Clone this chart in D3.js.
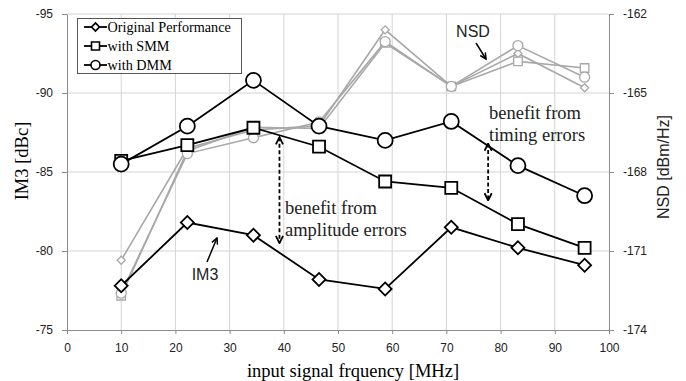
<!DOCTYPE html>
<html>
<head>
<meta charset="utf-8">
<script src="https://cdn.jsdelivr.net/npm/d3@7"></script>
<style>
  body { margin: 0; background: #fff; }
  svg { display: block; }
  .tick text { font-family: "Liberation Sans", Arial, sans-serif; font-size: 12px; fill: #222; }
</style>
</head>
<body>
<div id="chart"></div>
<script>
// input frequency (MHz)
const freq = [10, 22.2, 34.4, 46.5, 58.7, 70.9, 83.2, 95.5];

// IM3 [dBc], left axis
const im3Orig = [-77.8, -81.8, -81.0, -78.2, -77.6, -81.5, -80.2, -79.1];
const im3Smm = [-85.7, -86.7, -87.8, -86.6, -84.4, -84.0, -81.7, -80.2];
const im3Dmm = [-85.5, -87.9, -90.8, -87.9, -87.0, -88.2, -85.4, -83.5];

// NSD [dBm/Hz], right axis
const nsdOrig = [-171.35, -167.1, -166.4, -166.25, -162.6, -164.75, -163.5, -164.8];
const nsdSmm = [-172.7, -167.2, -166.3, -166.35, -163.1, -164.75, -163.8, -164.05];
const nsdDmm = [-172.6, -167.3, -166.7, -166.1, -163.05, -164.75, -163.2, -164.4];

const xTicks = [0, 10, 20, 30, 40, 50, 60, 70, 80, 90, 100];
const leftTicks = [-95, -90, -85, -80, -75];
const rightTicks = [-162, -165, -168, -171, -174];
const legendNames = ['Original Performance', 'with SMM', 'with DMM'];

const W = 686, H = 381;
const plot = { left: 67, right: 609, top: 14, bottom: 330 };
const axisGray = '#8c8c8c', gridGray = '#d4d4d4', seriesGray = '#a8a8a8';
const serif = '"Liberation Serif", "Times New Roman", serif';
const sans = '"Liberation Sans", Arial, sans-serif';

const svg = d3.select('#chart').append('svg')
  .attr('width', W).attr('height', H);

const x = d3.scaleLinear().domain([0, 100]).range([plot.left, plot.right]);
const yL = d3.scaleLinear().domain([-75, -95]).range([plot.bottom, plot.top]);
const yR = d3.scaleLinear().domain([-174, -162]).range([plot.bottom, plot.top]);

// grid
svg.append('g').selectAll('line')
  .data(xTicks.filter(d => d > 0 && d < 100)).enter().append('line')
  .attr('x1', d => x(d)).attr('x2', d => x(d))
  .attr('y1', plot.top).attr('y2', plot.bottom)
  .attr('stroke', gridGray).attr('stroke-width', 1);
svg.append('g').selectAll('line')
  .data(leftTicks.filter(d => d !== -75)).enter().append('line')
  .attr('x1', plot.left).attr('x2', plot.right)
  .attr('y1', d => yL(d)).attr('y2', d => yL(d))
  .attr('stroke', gridGray).attr('stroke-width', 1);

// axes
function styleAxis(g) {
  g.select('.domain').attr('stroke', axisGray);
  g.selectAll('.tick line').attr('stroke', axisGray);
}
svg.append('g')
  .attr('transform', `translate(0,${plot.bottom})`)
  .call(d3.axisBottom(x).tickValues(xTicks).tickFormat(d => String(d))
    .tickSize(4).tickSizeOuter(0).tickPadding(9))
  .call(styleAxis);
svg.append('g')
  .attr('transform', `translate(${plot.left},0)`)
  .call(d3.axisLeft(yL).tickValues(leftTicks).tickFormat(d => String(d))
    .tickSize(5).tickSizeOuter(0).tickPadding(9))
  .call(styleAxis);
svg.append('g')
  .attr('transform', `translate(${plot.right},0)`)
  .call(d3.axisRight(yR).tickValues(rightTicks).tickFormat(d => String(d))
    .tickSize(5).tickSizeOuter(0).tickPadding(9))
  .call(styleAxis);

// axis titles
svg.append('text')
  .attr('x', 353).attr('y', 377)
  .attr('text-anchor', 'middle')
  .style('font-family', serif).style('font-size', '18.5px')
  .text('input signal frquency [MHz]');
svg.append('text')
  .attr('transform', 'translate(28,161) rotate(-90)')
  .attr('text-anchor', 'middle')
  .style('font-family', serif).style('font-size', '18.5px')
  .text('IM3 [dBc]');
svg.append('text')
  .attr('transform', 'translate(669,167) rotate(-90)')
  .attr('text-anchor', 'middle')
  .style('font-family', sans).style('font-size', '16px').style('fill', '#222')
  .text('NSD [dBm/Hz]');

// marker shapes
const shapes = {
  diamond: (s) => d3.symbol(d3.symbolSquare, s * s / 2)(),
  square: (s) => d3.symbol(d3.symbolSquare, s * s)(),
  circle: (s) => d3.symbol(d3.symbolCircle, Math.PI * s * s / 4)()
};

function drawSeries(vals, yScale, shape, opt) {
  const pts = freq.map((f, i) => [x(f), yScale(vals[i])]);
  svg.append('path')
    .attr('d', d3.line()(pts))
    .attr('fill', 'none')
    .attr('stroke', opt.color)
    .attr('stroke-width', opt.lw);
  svg.append('g').selectAll('path')
    .data(pts).enter().append('path')
    .attr('transform', d => `translate(${d[0]},${d[1]})` + (shape === 'diamond' ? ' rotate(45)' : ''))
    .attr('d', shapes[shape](opt.size))
    .attr('fill', '#fff')
    .attr('stroke', opt.color)
    .attr('stroke-width', opt.mw);
}

// NSD (gray) first, IM3 (black) on top
const grayOpt = { color: seriesGray, lw: 1.6, mw: 1.3 };
drawSeries(nsdOrig, yR, 'diamond', Object.assign({ size: 8 }, grayOpt));
drawSeries(nsdSmm, yR, 'square', Object.assign({ size: 8.5 }, grayOpt));
drawSeries(nsdDmm, yR, 'circle', Object.assign({ size: 10 }, grayOpt));

const blackOpt = { color: '#000', lw: 1.8, mw: 1.8 };
drawSeries(im3Orig, yL, 'diamond', Object.assign({ size: 13 }, blackOpt));
drawSeries(im3Smm, yL, 'square', Object.assign({ size: 12 }, blackOpt));
drawSeries(im3Dmm, yL, 'circle', Object.assign({ size: 15 }, blackOpt));

// legend
const legend = svg.append('g');
legend.append('rect')
  .attr('x', 77.5).attr('y', 18.5).attr('width', 164).attr('height', 55)
  .attr('fill', '#fff').attr('stroke', '#555').attr('stroke-width', 1);
const legShapes = ['diamond', 'square', 'circle'];
const legSizes = [8, 8, 9];
legendNames.forEach((name, i) => {
  const cy = 27 + i * 19;
  legend.append('line')
    .attr('x1', 84).attr('x2', 107).attr('y1', cy).attr('y2', cy)
    .attr('stroke', '#000').attr('stroke-width', 1.8);
  legend.append('path')
    .attr('transform', `translate(95.5,${cy})` + (legShapes[i] === 'diamond' ? ' rotate(45)' : ''))
    .attr('d', shapes[legShapes[i]](legSizes[i]))
    .attr('fill', '#fff').attr('stroke', '#000').attr('stroke-width', 1.6);
  legend.append('text')
    .attr('x', 107.5).attr('y', cy + 5)
    .style('font-family', serif).style('font-size', '14.2px')
    .text(name);
});

// annotations
const defs = svg.append('defs');
defs.append('marker')
  .attr('id', 'head').attr('viewBox', '0 0 10 10')
  .attr('refX', 9).attr('refY', 5)
  .attr('markerWidth', 5).attr('markerHeight', 5)
  .attr('orient', 'auto-start-reverse')
  .append('path').attr('d', 'M1,1 L9,5 L1,9')
  .attr('fill', 'none').attr('stroke', '#000').attr('stroke-width', 2);

function dashedArrow(xv, y1, y2) {
  svg.append('line')
    .attr('x1', x(xv)).attr('x2', x(xv))
    .attr('y1', yL(y1)).attr('y2', yL(y2))
    .attr('stroke', '#000').attr('stroke-width', 1.8)
    .attr('stroke-dasharray', '4,2.5')
    .attr('marker-start', 'url(#head)').attr('marker-end', 'url(#head)');
}
dashedArrow(39.2, -87.2, -80.5);
dashedArrow(77.7, -86.8, -83.2);

function arrow(x1, y1, x2, y2) {
  svg.append('line')
    .attr('x1', x1).attr('y1', y1).attr('x2', x2).attr('y2', y2)
    .attr('stroke', '#000').attr('stroke-width', 1.5)
    .attr('marker-end', 'url(#head)');
}
arrow(207, 262, 217, 238);
arrow(476, 43, 486, 59);

svg.append('text').attr('x', 205).attr('y', 280).attr('text-anchor', 'middle')
  .style('font-family', sans).style('font-size', '16px').style('fill', '#222')
  .text('IM3');
svg.append('text').attr('x', 473).attr('y', 37).attr('text-anchor', 'middle')
  .style('font-family', sans).style('font-size', '16px').style('fill', '#222')
  .text('NSD');

function textBlock(x0, y0, lines) {
  const t = svg.append('text')
    .style('font-family', serif).style('font-size', '18.5px').style('fill', '#222');
  lines.forEach((l, i) => {
    t.append('tspan').attr('x', x0).attr('y', y0 + i * 22).text(l);
  });
}
textBlock(285, 214, ['benefit from', 'amplitude errors']);
textBlock(489, 119, ['benefit from', 'timing errors']);
</script>
</body>
</html>
